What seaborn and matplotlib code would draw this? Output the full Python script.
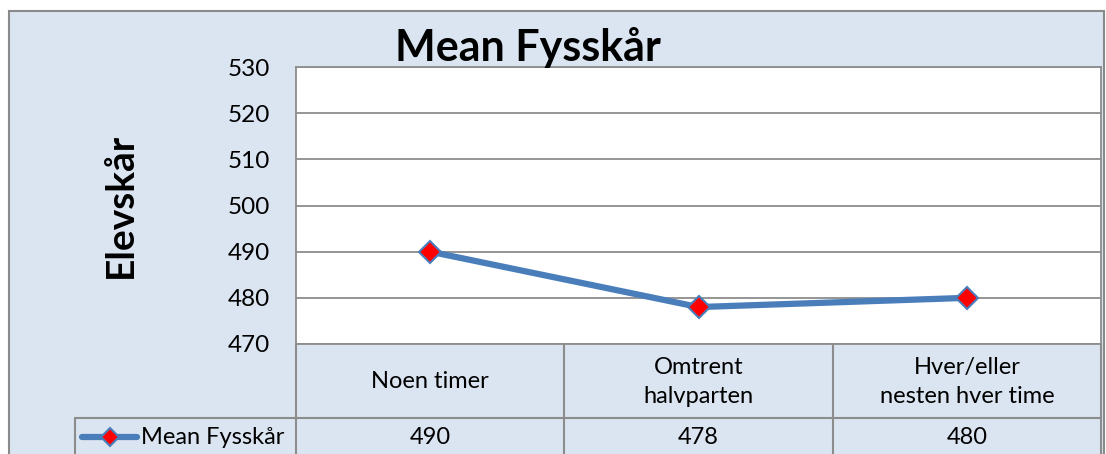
import numpy as np
import seaborn as sns
import matplotlib.pyplot as plt
from matplotlib.patches import Rectangle

categories = ["Noen timer", "Omtrent\nhalvparten", "Hver/eller\nnesten hver time"]
values = [490, 478, 480]
series_name = "Mean Fysskår"
y_ticks = [470, 480, 490, 500, 510, 520, 530]

BG = "#dbe5f1"
LINE = "#4a7ebb"
GRID = "#8c8c8c"

sns.set_theme(style="white")
plt.rcParams["font.family"] = ["Lato", "DejaVu Sans"]
plt.rcParams["text.color"] = "black"

W, H = 1106, 454
fig = plt.figure(figsize=(W / 100, H / 100), dpi=100, facecolor="white")

# overlay axes in pixel coords for frame and data table
ov = fig.add_axes([0, 0, 1, 1], zorder=0)
ov.set_xlim(0, W)
ov.set_ylim(H, 0)
ov.axis("off")
ov.add_patch(Rectangle((8.5, 10.5), 1095, 460, facecolor=BG, edgecolor="#8a8a8a", lw=1.5))

# plot area
x0, x1, y0, y1 = 296, 1101, 67, 344
ax = fig.add_axes([x0 / W, 1 - y1 / H, (x1 - x0) / W, (y1 - y0) / H], zorder=2)
ax.set_facecolor("white")
xs = np.arange(len(values))
sns.lineplot(x=xs, y=values, ax=ax, color=LINE, lw=4.5, marker="D", markersize=11,
             markerfacecolor="red", markeredgecolor=LINE, markeredgewidth=1.5)
ax.set_xlim(-0.5, len(values) - 0.5)
ax.set_ylim(y_ticks[0], y_ticks[-1])
ax.set_yticks(y_ticks)
ax.set_yticklabels([str(t) for t in y_ticks], fontsize=17.5, color="black")
ax.set_xticks([])
ax.tick_params(axis="y", length=0, pad=19)
ax.grid(axis="y", color=GRID, lw=1.3)
for s in ax.spines.values():
    s.set_color(GRID)
    s.set_linewidth(1.3)
fig.text(120 / W, 1 - 205 / H, "Elevskår", ha="center", va="center", rotation=90,
         fontsize=28, fontweight="bold", color="black")
fig.text(528 / W, 1 - 47 / H, "Mean Fysskår", ha="center", va="center",
         fontsize=31, fontweight="bold", color="black")

# data table
col_edges = np.linspace(x0, x1, len(categories) + 1)
hy0, hy1, vy1 = 344, 418, 470
lkw = dict(color=GRID, lw=1.5)
for xe in col_edges:
    ov.plot([xe, xe], [hy0, vy1], **lkw)
ov.plot([75, x1], [hy1, hy1], **lkw)
ov.plot([75, 75], [hy1, vy1], **lkw)
for i, (cat, v) in enumerate(zip(categories, values)):
    cx = (col_edges[i] + col_edges[i + 1]) / 2
    ov.text(cx, (hy0 + hy1) / 2 + 1, cat, ha="center", va="center", fontsize=17,
            linespacing=1.5)
    ov.text(cx, 438, str(v), ha="center", va="center", fontsize=17)

# legend key in row header
ov.plot([82, 137], [437, 437], color=LINE, lw=4.5)
ov.plot([110], [437], marker="D", markersize=9, markerfacecolor="red",
        markeredgecolor=LINE, markeredgewidth=1.5)
ov.text(141, 437, series_name, ha="left", va="center", fontsize=17)

fig.savefig("out.png", dpi=100, facecolor="white")
